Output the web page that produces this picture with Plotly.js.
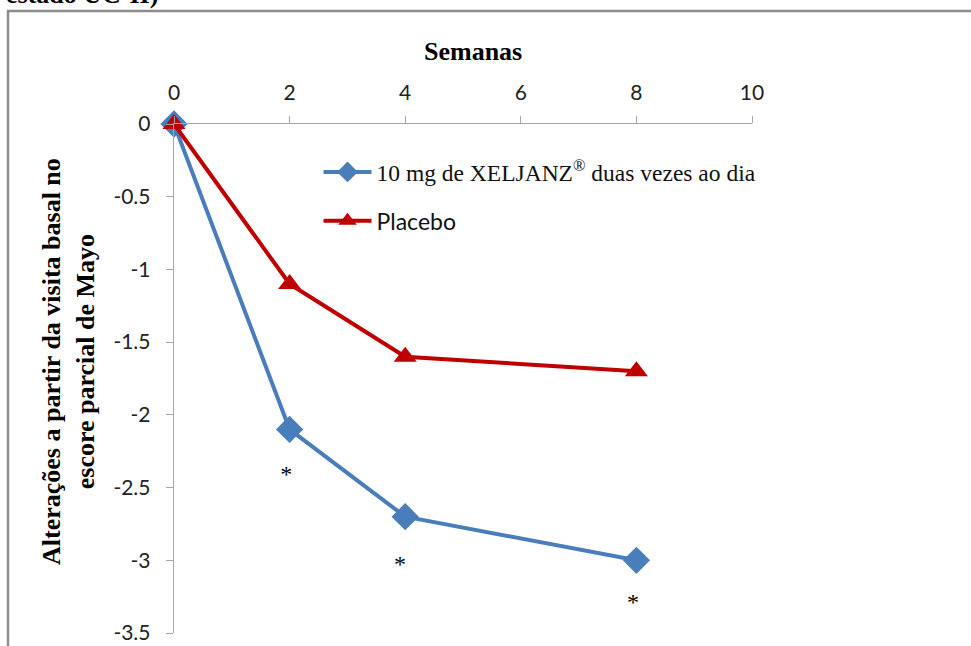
<!DOCTYPE html>
<html>
<head>
<meta charset="utf-8">
<script src="https://cdn.plot.ly/plotly-3.0.1.min.js"></script>
<style>html,body{margin:0;padding:0;background:#fff;}#chart{width:971px;height:646px;}</style>
</head>
<body>
<div id="chart"></div>
<script>
const weeks = [0, 2, 4, 8];
const xeljanz = [0, -2.1, -2.7, -3.0];
const placebo = [0, -1.1, -1.6, -1.7];
const starX = [1.94, 3.91, 7.94];
const starY = [-2.42, -3.04, -3.3];
const xTicks = [0, 2, 4, 6, 8, 10];
const yTicks = [0, -0.5, -1, -1.5, -2, -2.5, -3, -3.5];
const yTickLabels = ["0", "-0.5", "-1", "-1.5", "-2", "-2.5", "-3", "-3.5"];
const seriesNames = ['<span style="font-family:\'Liberation Serif\';font-size:23.5px">10 mg de XELJANZ<sup>®</sup> duas vezes ao dia</span>', '<span style="font-size:23px">Placebo</span>'];

const traces = [
  {x: weeks, y: xeljanz, name: seriesNames[0], legendgroup: 'a', mode: 'lines+markers', cliponaxis: false,
   line: {color: '#4a7ebb', width: 4}, marker: {symbol: 'diamond', size: 21, color: '#4a7ebb'}},
  {x: weeks, y: placebo, name: seriesNames[1], legendgroup: 'b', mode: 'lines+markers', cliponaxis: false,
   line: {color: '#be0000', width: 4}, marker: {symbol: 'triangle-up', size: 20, color: '#be0000'}},
  {x: starX, y: starY, mode: 'text', text: starX.map(() => '*'), showlegend: false, cliponaxis: false,
   textfont: {family: 'Liberation Serif', size: 24, color: '#000'}, hoverinfo: 'skip'}
];

const layout = {
  width: 971, height: 646,
  margin: {l: 174, r: 219, t: 124, b: 13},
  paper_bgcolor: '#fff', plot_bgcolor: '#fff',
  showlegend: true,
  legend: {x: 0.25, y: 0.948, xanchor: 'left', yanchor: 'top', bgcolor: 'rgba(0,0,0,0)', itemwidth: 48,
           font: {family: 'Lato', size: 23, color: '#111'}, tracegroupgap: 16, traceorder: 'grouped'},
  xaxis: {side: 'top', range: [0, 10], tickvals: xTicks, ticks: 'outside', ticklen: 7, tickcolor: '#a6a6a6',
          showline: true, linecolor: '#a6a6a6', linewidth: 1.3, showgrid: false, zeroline: false,
          tickfont: {family: 'Lato', size: 21, color: '#222'}, ticklabelstandoff: 7,
          title: {text: ''}},
  yaxis: {range: [-3.5, 0], tickvals: yTicks, ticktext: yTickLabels, ticks: 'outside', ticklen: 7, tickcolor: '#a6a6a6',
          showline: true, linecolor: '#a6a6a6', linewidth: 1.3, showgrid: false, zeroline: false,
          tickfont: {family: 'Lato', size: 21, color: '#222'}, ticklabelstandoff: 11},
  annotations: [
    {text: '<b>Semanas</b>', xref: 'paper', yref: 'paper', x: 0.517, y: 1 + (124 - 52) / 509,
     xanchor: 'center', yanchor: 'middle', showarrow: false,
     font: {family: 'Liberation Serif', size: 26, color: '#000'}},
    {text: '<b>Alterações a partir da visita basal no<br>escore parcial de Mayo</b>', xref: 'paper', yref: 'paper',
     x: (68 - 174) / 578, y: 1 - (362 - 124) / 509, xanchor: 'center', yanchor: 'middle', textangle: -90,
     showarrow: false, align: 'center', font: {family: 'Liberation Serif', size: 26, color: '#000'}},
    {text: '<b>estado UC-II)</b>', xref: 'paper', yref: 'paper', x: (4 - 174) / 578, y: 1 + (124 + 6) / 509,
     xanchor: 'left', yanchor: 'middle', showarrow: false,
     font: {family: 'Liberation Serif', size: 26, color: '#000'}}
  ],
  shapes: [
    {type: 'path', xref: 'paper', yref: 'paper',
     path: 'M ' + ((8 - 174) / 578) + ',' + (1 - (660 - 124) / 509) + ' L ' + ((8 - 174) / 578) + ',' + (1 + (124 - 11) / 509) +
           ' L ' + ((980 - 174) / 578) + ',' + (1 + (124 - 11) / 509),
     line: {color: '#8c8c8c', width: 2.5}}
  ]
};

Plotly.newPlot('chart', traces, layout, {displayModeBar: false, staticPlot: true});
</script>
</body>
</html>
